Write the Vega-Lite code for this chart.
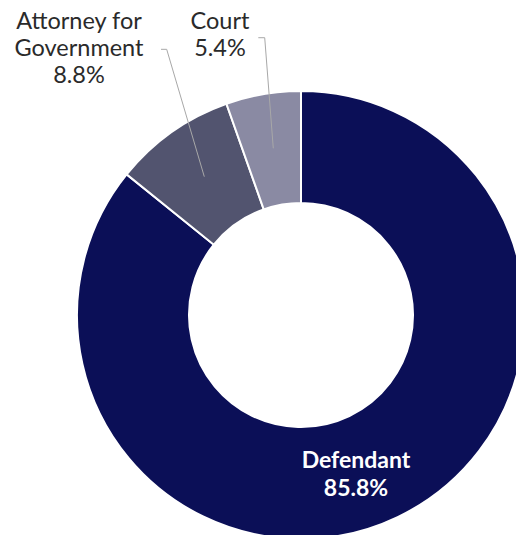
{
  "$schema": "https://vega.github.io/schema/vega-lite/v6.json",
  "width": 516,
  "height": 535,
  "autosize": {"type": "none"},
  "padding": 0,
  "background": "white",
  "config": {"view": {"stroke": null}},
  "datasets": {
    "slices": [
      {"category": "Defendant", "value": 85.8, "ord": 1},
      {"category": "Attorney for Government", "value": 8.8, "ord": 2},
      {"category": "Court", "value": 5.4, "ord": 3}
    ],
    "labels": [
      {"category": "Defendant", "text": "Defendant\n85.8%", "x": 0.2455, "y": -0.6540, "inside": true},
      {"category": "Attorney for Government", "text": "Attorney for\nGovernment\n8.8%", "x": -0.9911, "y": 1.3080, "inside": false},
      {"category": "Court", "text": "Court\n5.4%", "x": -0.3616, "y": 1.3080, "inside": false}
    ],
    "leaders": [
      {"category": "Court", "step": 1, "x": -0.1906, "y": 1.2379},
      {"category": "Court", "step": 2, "x": -0.1620, "y": 1.2379},
      {"category": "Court", "step": 3, "x": -0.1237, "y": 0.7442},
      {"category": "Attorney for Government", "step": 1, "x": -0.6250, "y": 1.1861},
      {"category": "Attorney for Government", "step": 2, "x": -0.5996, "y": 1.1861},
      {"category": "Attorney for Government", "step": 3, "x": -0.4317, "y": 0.6176}
    ]
  },
  "layer": [
    {
      "data": {"name": "slices"},
      "mark": {"type": "arc", "radius": 224, "radius2": 112, "stroke": "white", "strokeWidth": 2},
      "encoding": {
        "x": {"datum": 0, "type": "quantitative", "scale": {"domain": [-1.34375, 0.95982], "nice": false, "zero": false}, "axis": null},
        "y": {"datum": 0, "type": "quantitative", "scale": {"domain": [-0.98214, 1.40625], "nice": false, "zero": false}, "axis": null},
        "theta": {"field": "value", "type": "quantitative", "stack": true},
        "order": {"field": "ord", "type": "quantitative"},
        "color": {
          "field": "category",
          "type": "nominal",
          "scale": {"domain": ["Defendant", "Attorney for Government", "Court"], "range": ["#0b0f57", "#52546f", "#8a8aa3"]},
          "legend": null
        }
      }
    },
    {
      "data": {"name": "leaders"},
      "mark": {"type": "line", "stroke": "#a8a8a8", "strokeWidth": 1},
      "encoding": {
        "x": {"field": "x", "type": "quantitative"},
        "y": {"field": "y", "type": "quantitative"},
        "detail": {"field": "category"},
        "order": {"field": "step", "type": "quantitative"}
      }
    },
    {
      "data": {"name": "labels"},
      "transform": [{"filter": "datum.inside"}],
      "mark": {"type": "text", "font": "Lato", "fontSize": 23, "fontWeight": "bold", "fill": "white", "lineBreak": "\n", "lineHeight": 28, "align": "center", "baseline": "middle"},
      "encoding": {
        "x": {"field": "x", "type": "quantitative"},
        "y": {"field": "y", "type": "quantitative"},
        "text": {"field": "text"}
      }
    },
    {
      "data": {"name": "labels"},
      "transform": [{"filter": "!datum.inside"}],
      "mark": {"type": "text", "font": "Lato", "fontSize": 23.5, "fill": "#2a2a2a", "lineBreak": "\n", "lineHeight": 27, "align": "center", "baseline": "middle"},
      "encoding": {
        "x": {"field": "x", "type": "quantitative"},
        "y": {"field": "y", "type": "quantitative"},
        "text": {"field": "text"}
      }
    }
  ]
}
